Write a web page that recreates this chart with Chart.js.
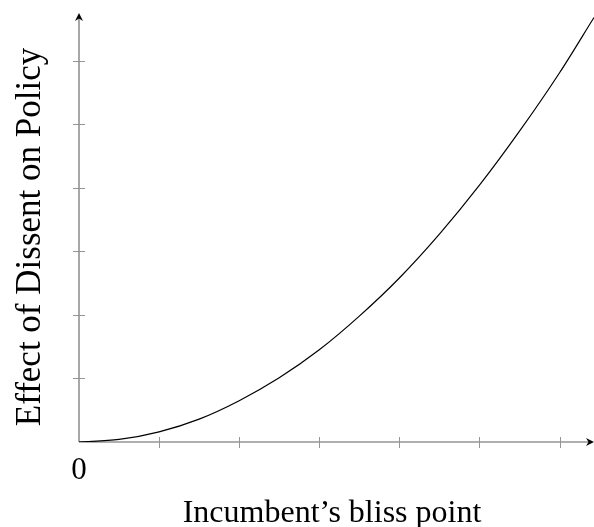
<!DOCTYPE html>
<html>
<head>
<meta charset="utf-8">
<script src="https://cdn.jsdelivr.net/npm/chart.js@4"></script>
<style>
    body { margin: 0; background: #fff; }
    #wrap { width: 594px; height: 527px; position: relative; }
</style>
</head>
<body>
<div id="wrap"><canvas id="myChart"></canvas></div>
<script>
// values, in tick units
const blissPoint = [0, 0.5, 1, 1.5, 2, 2.5, 3, 3.5, 4, 4.5, 5, 5.5, 6, 6.43];
const dissentEffect = [0, 0.04, 0.16, 0.36, 0.65, 1.01, 1.45, 1.98, 2.58, 3.27, 4.04, 4.89, 5.81, 6.68];
const xTicks = [1, 2, 3, 4, 5, 6];
const yTicks = [1, 2, 3, 4, 5, 6];
const xLabel = "Incumbent\u2019s bliss point";
const yLabel = "Effect of Dissent on Policy";
const originLabel = "0";

const serif = '"Liberation Serif", "DejaVu Serif", serif';

// draw arrow axes, crossing ticks and the labels
const axesPlugin = {
    id: 'axes',
    beforeDatasetsDraw(chart) {
        const ctx = chart.ctx;
        const xs = chart.scales.x, ys = chart.scales.y;
        const x0 = xs.getPixelForValue(0), y0 = ys.getPixelForValue(0);
        const xEnd = xs.right, yEnd = ys.top;
        ctx.save();
        ctx.strokeStyle = '#606060';
        ctx.lineWidth = 1.1;
        ctx.beginPath();
        ctx.moveTo(x0, y0); ctx.lineTo(xEnd - 3, y0);
        ctx.moveTo(x0, y0); ctx.lineTo(x0, yEnd + 3);
        ctx.stroke();
        ctx.strokeStyle = '#959595';
        ctx.lineWidth = 1;
        ctx.beginPath();
        xTicks.forEach(t => {
            const px = Math.round(xs.getPixelForValue(t)) + 0.5;
            ctx.moveTo(px, y0 - 5); ctx.lineTo(px, y0 + 6);
        });
        yTicks.forEach(t => {
            const py = Math.round(ys.getPixelForValue(t)) + 0.5;
            ctx.moveTo(x0 - 6, py); ctx.lineTo(x0 + 6, py);
        });
        ctx.stroke();
        // arrow heads
        ctx.fillStyle = '#000';
        ctx.beginPath();
        ctx.moveTo(xEnd, y0);
        ctx.lineTo(xEnd - 8, y0 - 4);
        ctx.lineTo(xEnd - 5.5, y0);
        ctx.lineTo(xEnd - 8, y0 + 4);
        ctx.closePath();
        ctx.fill();
        ctx.beginPath();
        ctx.moveTo(x0, yEnd);
        ctx.lineTo(x0 - 4, yEnd + 8);
        ctx.lineTo(x0, yEnd + 5.5);
        ctx.lineTo(x0 + 4, yEnd + 8);
        ctx.closePath();
        ctx.fill();
        ctx.restore();
    },
    afterDraw(chart) {
        const ctx = chart.ctx;
        const xs = chart.scales.x, ys = chart.scales.y;
        const x0 = xs.getPixelForValue(0);
        ctx.save();
        ctx.fillStyle = '#000';
        ctx.textAlign = 'center';
        ctx.textBaseline = 'alphabetic';
        ctx.font = '31px ' + serif;
        ctx.fillText(originLabel, x0, 479);
        ctx.font = '32px ' + serif;
        ctx.fillText(xLabel, 332, 522);
        ctx.translate(40, 237);
        ctx.rotate(-Math.PI / 2);
        ctx.font = '35px ' + serif;
        ctx.fillText(yLabel, 0, 0);
        ctx.restore();
    }
};

new Chart(document.getElementById('myChart'), {
    type: 'line',
    data: {
        datasets: [{
            data: blissPoint.map((v, i) => ({x: v, y: dissentEffect[i]})),
            borderColor: '#000',
            borderWidth: 1.2,
            pointRadius: 0,
            cubicInterpolationMode: 'monotone',
            fill: false
        }]
    },
    options: {
        responsive: true,
        maintainAspectRatio: false,
        animation: false,
        events: [],
        layout: { padding: { left: 79, right: 0, top: 13, bottom: 85 } },
        scales: {
            x: { type: 'linear', display: false, min: 0, max: 6.43 },
            y: { type: 'linear', display: false, min: 0, max: 6.75 }
        },
        plugins: {
            legend: { display: false },
            tooltip: { enabled: false }
        }
    },
    plugins: [axesPlugin]
});
</script>
</body>
</html>
